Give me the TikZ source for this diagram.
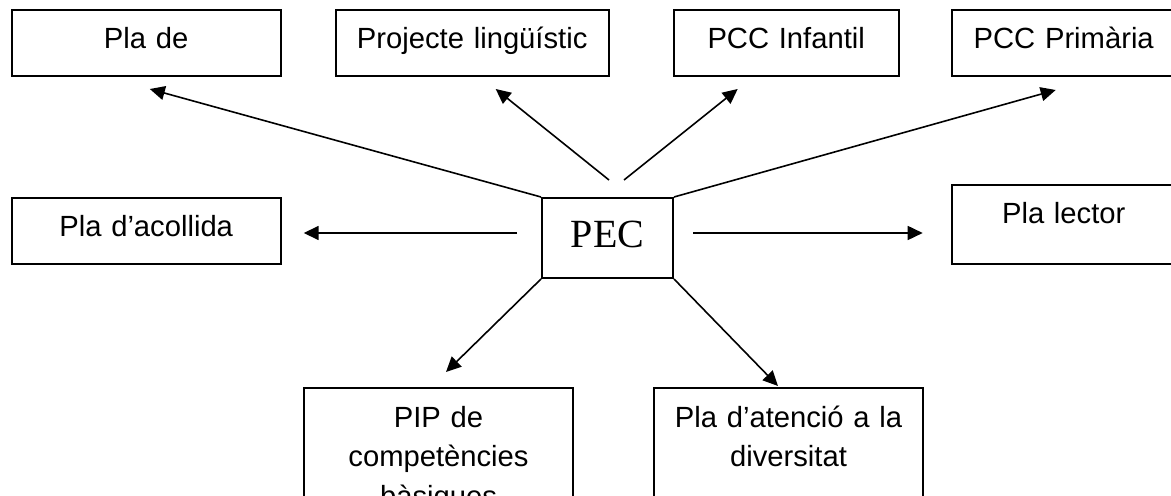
\documentclass[tikz,border=0pt]{standalone}
\usepackage{fontspec}
\setmainfont{Liberation Sans}
\newfontfamily\pecfont{Liberation Serif}
\usepackage{tikz}
\usetikzlibrary{arrows.meta, positioning, calc}

\begin{document}
\begin{tikzpicture}[
    x=0.5pt, y=-0.5pt,
    quadre/.style={rectangle, draw=black, line width=1pt, inner sep=0pt, align=center, text width=134.5pt, text height=19.5pt, text depth=13.5pt, font=\fontsize{14.6}{19.8}\selectfont},
    fletxa/.style={-{Triangle[length=7.5pt, width=7pt]}, line width=0.8pt}
]

\useasboundingbox (0,0) rectangle (1171,496);
\clip (0,0) rectangle (1171,496);
\fill[white] (0,0) rectangle (1171,496);

% PEC
\node[quadre, anchor=north west, text width=65.5pt, text height=25pt, text depth=15pt, font=\pecfont\fontsize{20}{24}\selectfont] (pec) at (541,197) {PEC};

% fila de dalt
\node[quadre, anchor=north west] (plade) at (10.7,9) {Pla de};
\node[quadre, text width=136.5pt, right=26.5pt of plade] (projecte) {Projecte lingüístic};
\node[quadre, text width=112.5pt, right=31.5pt of projecte] (infantil) {PCC Infantil};
\node[quadre, text width=112pt, right=25.5pt of infantil] (primaria) {PCC Primària};

% costats
\node[quadre, below=60pt of plade] (acollida) {Pla d’acollida};
\node[quadre, text width=112pt, text depth=20pt, below=53.5pt of primaria] (lector) {Pla lector};

% fila de baix
\node[quadre, anchor=north west, text depth=80pt] (pip) at (303,387) {PIP de\\competències\\bàsiques};
\node[quadre, text depth=80pt, right=39.5pt of pip] (diversitat) {Pla d’atenció a la\\diversitat};

% Fletxes
\draw[fletxa] (pec.north west) -- ($(plade.south)+(3.6,12)$);
\draw[fletxa] ($(pec.north)+(1.5,-17)$) -- ($(projecte.south)+(23.5,12)$);
\draw[fletxa] ($(pec.north)+(16.5,-17)$) -- ($(infantil.south)+(-48.5,12)$);
\draw[fletxa] (pec.north east) -- ($(primaria.south)+(-8,13)$);
\draw[fletxa] ($(pec.west)+(-24,-5)$) -- ($(acollida.east)+(22,2)$);
\draw[fletxa] ($(pec.east)+(19,-5)$) -- ($(lector.west)+(-28,8.5)$);
\draw[fletxa] (pec.south west) -- ($(pip.north)+(7.5,-15)$);
\draw[fletxa] (pec.south east) -- ($(diversitat.north)+(-10.5,-1)$);

\end{tikzpicture}
\end{document}
